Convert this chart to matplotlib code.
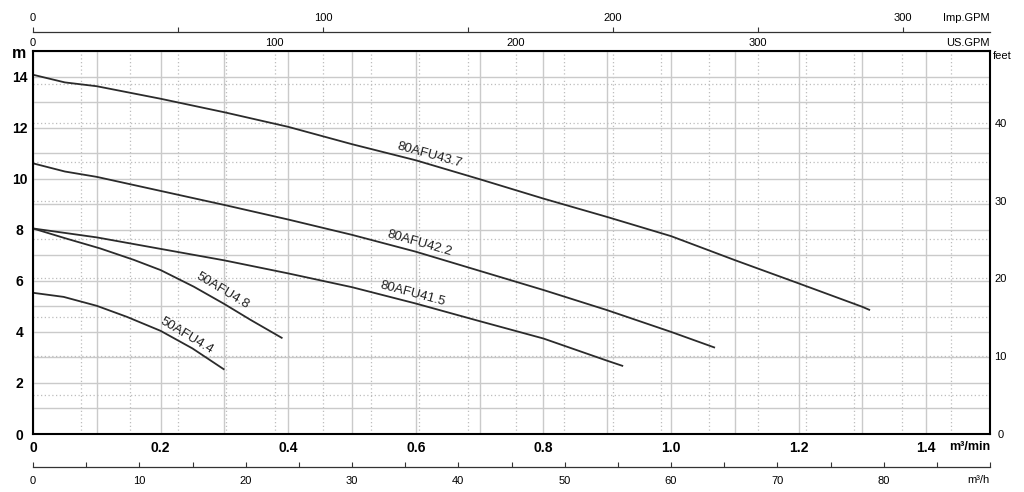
import numpy as np
import matplotlib
matplotlib.use("Agg")
import matplotlib.pyplot as plt
from matplotlib.ticker import MultipleLocator, FixedLocator

plt.rcParams['font.family'] = ['Liberation Sans', 'DejaVu Sans']

# ---- data (flow in m3/min, head in m) ----
q_43_7 = [0, 0.05, 0.1, 0.2, 0.3, 0.4, 0.5, 0.6, 0.7, 0.8, 0.9, 1.0, 1.1, 1.2, 1.3, 1.312]
h_43_7 = [14.07, 13.77, 13.62, 13.13, 12.6, 12.03, 11.35, 10.72, 9.98, 9.22, 8.5, 7.75, 6.81, 5.9, 4.98, 4.85]

q_42_2 = [0, 0.05, 0.1, 0.2, 0.3, 0.4, 0.5, 0.6, 0.7, 0.8, 0.9, 1.0, 1.069]
h_42_2 = [10.6, 10.28, 10.07, 9.52, 8.97, 8.4, 7.8, 7.14, 6.39, 5.64, 4.85, 4.0, 3.38]

q_41_5 = [0, 0.1, 0.2, 0.3, 0.4, 0.5, 0.6, 0.7, 0.8, 0.9, 0.925]
h_41_5 = [8.05, 7.7, 7.25, 6.8, 6.29, 5.75, 5.11, 4.42, 3.74, 2.87, 2.66]

q_4_8 = [0, 0.05, 0.105, 0.158, 0.2, 0.252, 0.3, 0.341, 0.391]
h_4_8 = [8.05, 7.67, 7.27, 6.82, 6.42, 5.77, 5.09, 4.47, 3.75]

q_4_4 = [0, 0.048, 0.1, 0.147, 0.2, 0.25, 0.3]
h_4_4 = [5.53, 5.37, 5.02, 4.59, 4.04, 3.35, 2.52]

series = [
    ("80AFU43.7", q_43_7, h_43_7, (0.621, 10.92), -15.5),
    ("80AFU42.2", q_42_2, h_42_2, (0.605, 7.47), -16),
    ("80AFU41.5", q_41_5, h_41_5, (0.595, 5.48), -15),
    ("50AFU4.8", q_4_8, h_4_8, (0.2967, 5.61), -31),
    ("50AFU4.4", q_4_4, h_4_4, (0.240, 3.84), -31),
]

x_ticks_main = [0, 0.2, 0.4, 0.6, 0.8, 1.0, 1.2, 1.4]
x_tick_labels = ["0", "0.2", "0.4", "0.6", "0.8", "1.0", "1.2", "1.4"]
y_ticks_main = [0, 2, 4, 6, 8, 10, 12, 14]
usgpm_ticks = [0, 100, 200, 300]
impgpm_ticks = [0, 100, 200, 300]
m3h_ticks = [0, 10, 20, 30, 40, 50, 60, 70, 80]
feet_ticks = [0, 10, 20, 30, 40]

US_GPM = 264.172   # per m3/min
IMP_GPM = 219.969  # per m3/min
FT = 3.28084       # per m
XMAX, YMAX = 1.5, 15
SMALL = 8

W, H = 1024, 492
fig = plt.figure(figsize=(W / 100, H / 100), dpi=100)
L, R, T, B = 33, 990, 51, 434
ax = fig.add_axes([L / W, (H - B) / H, (R - L) / W, (B - T) / H])
ax.set_xlim(0, XMAX)
ax.set_ylim(0, YMAX)

# grid: solid every 0.1 m3/min and 1 m, dotted every 20 US GPM and 5 ft
xmaj = np.arange(0, 1.5001, 0.1)
ymaj = np.arange(0, 15.001, 1)
ax.set_xticks(xmaj)
ax.set_xticks(np.arange(20, 400, 20) / US_GPM, minor=True)
ax.set_yticks(ymaj)
ax.set_yticks(np.arange(5, 50, 5) / FT, minor=True)
ax.grid(which='major', color='#cacaca', lw=1.0, ls='-')
ax.grid(which='minor', color='#bdbdbd', lw=0.9, ls=(0, (1, 2)))
ax.set_axisbelow(True)
xl = []
for v in xmaj:
    s = ""
    for tv, tl in zip(x_ticks_main, x_tick_labels):
        if abs(v - tv) < 1e-6:
            s = tl
    xl.append(s)
ax.set_xticklabels(xl)
ax.set_yticklabels([str(int(round(v))) if int(round(v)) in y_ticks_main else "" for v in ymaj])
ax.tick_params(which='both', length=0)
ax.tick_params(axis='x', pad=5, labelsize=10)
ax.tick_params(axis='y', pad=9.7, labelsize=10)
for lab in ax.get_xticklabels() + ax.get_yticklabels():
    lab.set_fontweight('bold')
for lab in ax.get_yticklabels():
    lab.set_ha('center')
for sp in ax.spines.values():
    sp.set_linewidth(1.5)
    sp.set_color('black')

# curves
for name, q, h, (tx, ty), rot in series:
    ax.plot(q, h, color='#2b2b2b', lw=1.3, solid_capstyle='butt')
    ax.text(tx, ty, name, rotation=rot, rotation_mode='anchor', ha='center', va='center',
            fontsize=9.5, color='#222222')

# axis unit labels
ax.text(-14 / (R - L), 1.0 - 7.5 / (B - T), 'm', transform=ax.transAxes, ha='center', va='baseline',
        fontsize=11.5, fontweight='bold')
ax.text(1.0, -7 / (B - T), 'm³/min', transform=ax.transAxes, ha='right', va='top',
        fontsize=9, fontweight='bold')
ax.text(1.0 + 3 / (R - L), 1.0 - 5 / (B - T), 'feet', transform=ax.transAxes, ha='left', va='center',
        fontsize=SMALL)

# US GPM on top spine
sec_top = ax.secondary_xaxis('top', functions=(lambda x: x * US_GPM, lambda g: g / US_GPM))
sec_top.set_xticks(usgpm_ticks)
sec_top.tick_params(length=0, pad=2.0, labelsize=SMALL)
sec_top.spines['top'].set_visible(False)
ax.text(1.0, 1.0 + 8.5 / (B - T), 'US.GPM', transform=ax.transAxes, ha='right', va='center', fontsize=SMALL)

# feet on the right
sec_r = ax.secondary_yaxis('right', functions=(lambda m: m * FT, lambda f: f / FT))
sec_r.set_yticks(feet_ticks)
sec_r.tick_params(length=0, pad=7.5, labelsize=SMALL)
sec_r.spines['right'].set_visible(False)
for lab in sec_r.get_yticklabels():
    lab.set_ha('center')

# Imp GPM axis
yi = 32
ax_i = fig.add_axes([L / W, (H - yi) / H, (R - L) / W, 1e-6])
ax_i.set_xlim(0, XMAX * IMP_GPM)
for k in ['left', 'right', 'bottom']:
    ax_i.spines[k].set_visible(False)
ax_i.spines['top'].set_linewidth(0.9)
ax_i.spines['top'].set_color('#333333')
ax_i.set_yticks([])
ax_i.xaxis.tick_top()
ax_i.set_xticks(impgpm_ticks)
ax_i.xaxis.set_minor_locator(FixedLocator([50, 150, 250]))
ax_i.tick_params(which='both', direction='out', length=3.8, width=0.8, color='#333333',
                 labelsize=SMALL, pad=2.7)
ax_i.annotate('Imp.GPM', xy=(1.0, 0), xycoords='axes fraction', xytext=(0, 14), textcoords='offset pixels',
              ha='right', va='center', fontsize=SMALL)

# m3/h axis
yh = 467
ax_h = fig.add_axes([L / W, (H - yh) / H, (R - L) / W, 1e-6])
ax_h.set_xlim(0, XMAX * 60)
for k in ['left', 'right', 'top']:
    ax_h.spines[k].set_visible(False)
ax_h.spines['bottom'].set_linewidth(0.9)
ax_h.spines['bottom'].set_color('#333333')
ax_h.set_yticks([])
ax_h.set_xticks(m3h_ticks)
ax_h.xaxis.set_minor_locator(MultipleLocator(5))
ax_h.tick_params(which='both', direction='in', length=3.8, width=0.8, color='#333333',
                 labelsize=SMALL, pad=6.5)
ax_h.annotate('m³/h', xy=(1.0, 0), xycoords='axes fraction', xytext=(0, -13), textcoords='offset pixels',
              ha='right', va='center', fontsize=SMALL)

fig.savefig('out.png', dpi=100)
